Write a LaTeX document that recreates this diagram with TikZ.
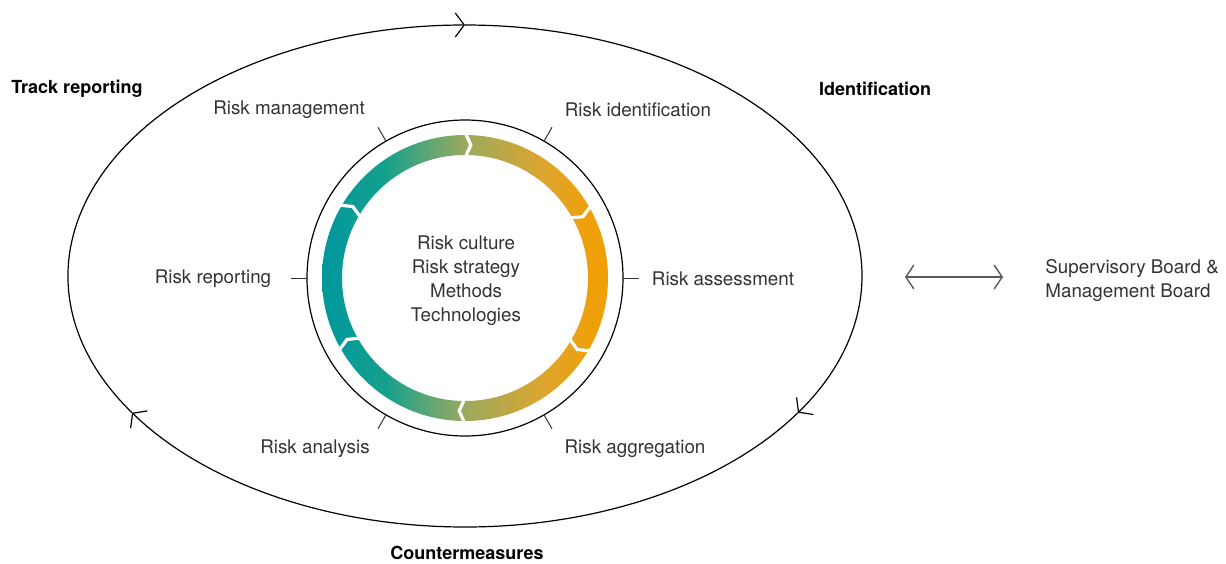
\documentclass[tikz,border=0pt]{standalone}
\usepackage{fontspec}
\setmainfont{TeX Gyre Heros}
\usetikzlibrary{arrows.meta}
\definecolor{ringteal}{RGB}{0,152,158}
\definecolor{ringgreen}{RGB}{20,160,140}
\definecolor{ringolive}{RGB}{155,170,95}
\definecolor{ringamber}{RGB}{222,165,45}
\definecolor{ringorange}{RGB}{239,160,8}
\definecolor{labelgray}{RGB}{51,51,51}
\pgfdeclarehorizontalshading{riskring}{100bp}{color(0bp)=(ringteal); color(25bp)=(ringteal); color(36bp)=(ringgreen); color(50bp)=(ringolive); color(64bp)=(ringamber); color(72bp)=(ringorange); color(100bp)=(ringorange)}

\begin{document}
\begin{tikzpicture}[x=0.5pt, y=0.5pt,
  every node/.style={inner sep=0pt, font=\fontsize{9.4}{12}\selectfont, text=labelgray},
  phase/.style={align=center},
  stage/.style={font=\bfseries\fontsize{9}{11}\selectfont, text=black},
  orbit/.style={line width=0.6pt, -{Straight Barb[length=4.5pt, width=12pt, line width=0.6pt]}},
  gapline/.style={white, line width=1.6pt, line join=miter},
  tickline/.style={line width=0.5pt, black!80},
  boardarrow/.style={line width=0.7pt, black!65,
    {Straight Barb[length=4pt, width=12pt]}-{Straight Barb[length=4pt, width=12pt]}}]
  \useasboundingbox (0,0) rectangle (1226,-563);
  \coordinate (ectr) at (465,-276);
  \coordinate (ctr) at (465,-278);
  \foreach \s/\e in {213/90, 90/-33, -33/-147}
    \draw[orbit] ([shift={(\s:397 and 251)}]ectr) arc[start angle=\s, end angle=\e, x radius=397, y radius=251];
  \draw[line width=0.6pt] (ctr) circle[radius=158];
  \shade[shading=riskring, even odd rule] (ctr) circle[radius=143] (ctr) circle[radius=123];
  \foreach \a in {90,30,-30,-90,-150,150}
    \draw[gapline] ([shift={(\a:120)}]ctr) -- ([shift={({\a-2.5}:133)}]ctr) -- ([shift={(\a:146)}]ctr);
  \foreach \a in {0,60,...,300}
    \draw[tickline] ([shift={(\a:158)}]ctr) -- ([shift={(\a:174)}]ctr);
  \node[phase] (core) at (466,-281) {Risk culture\\Risk strategy\\Methods\\Technologies};
  \node (mgmt) at (289,-110) {Risk management};
  \node (ident) at (638,-110) {Risk identification};
  \node (report) at (213,-279) {Risk reporting};
  \node (assess) at (723,-279) {Risk assessment};
  \node (analysis) at (315,-449) {Risk analysis};
  \node (aggr) at (635,-449) {Risk aggregation};
  \node[stage] (track) at (77,-89) {Track reporting};
  \node[stage] (identstage) at (875,-89) {Identification};
  \node[stage] (counter) at (467,-553) {Countermeasures};
  \node[align=left, anchor=west] (board) at (1045,-281) {Supervisory Board \&\\Management Board};
  \coordinate (bleft) at (905,-277);
  \coordinate (bright) at (1003,-277);
  \draw[boardarrow] (bleft) -- (bright);
\end{tikzpicture}
\end{document}
